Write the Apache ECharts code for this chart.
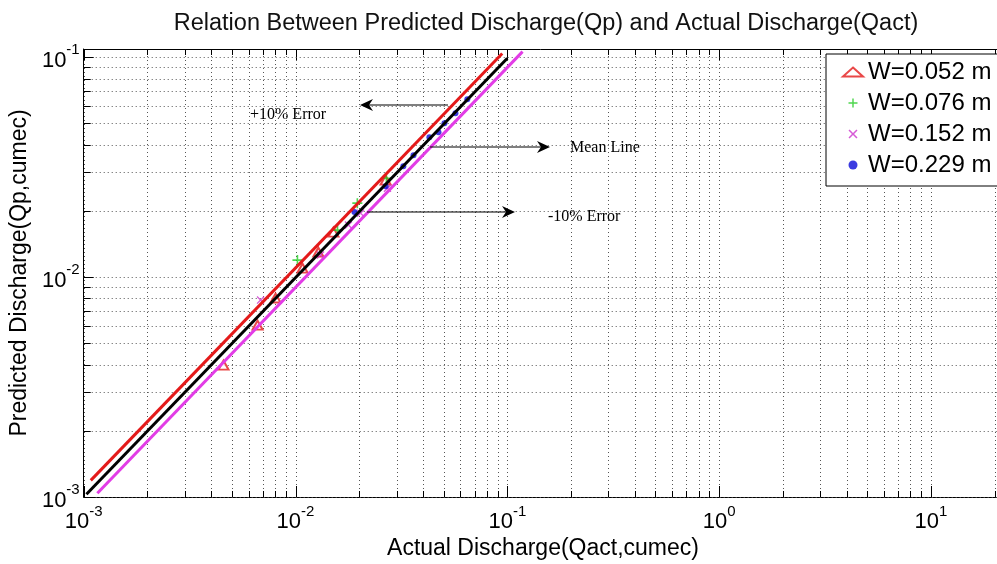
<!DOCTYPE html>
<html><head><meta charset="utf-8">
<script src="https://cdn.jsdelivr.net/npm/echarts@6/dist/echarts.min.js"></script>
<style>html,body{margin:0;padding:0;background:#fff;overflow:hidden;}#c{width:997px;height:564px;}</style>
</head><body><div id="c"></div>
<script>
// ---- data ----
const seriesNames = ['W=0.052 m', 'W=0.076 m', 'W=0.152 m', 'W=0.229 m'];
const w052 = [[0.00457,0.00398],[0.00662,0.00605],[0.00805,0.00803],[0.01079,0.01099],[0.01282,0.01299],[0.01510,0.01601],[0.02663,0.02760]];
const w076 = [[0.01021,0.01195],[0.01578,0.01635],[0.01958,0.02170],[0.02685,0.02818]];
const w152 = [[0.00684,0.00786],[0.01312,0.01259],[0.01778,0.01724],[0.02028,0.01954],[0.02716,0.02538]];
const w229 = [[0.01897,0.01975],[0.02663,0.02592],[0.03228,0.03196],[0.03606,0.03585],[0.04285,0.04329],[0.04732,0.04561],[0.05047,0.05012],[0.05689,0.05566],[0.06471,0.06445]];
const plus10Line = [[0.00108,0.00119],[0.0946,0.104]];
const meanLine = [[0.00103,0.00103],[0.1,0.099]];
const minus10Line = [[0.00116,0.00104],[0.118,0.106]];
const xRange = [0.001, 20.5];
const yRange = [0.001, 0.109];
const xGridValues = [0.001,0.002,0.003,0.004,0.005,0.006,0.007,0.008,0.009,
  0.01,0.02,0.03,0.04,0.05,0.06,0.07,0.08,0.09,
  0.1,0.2,0.3,0.4,0.5,0.6,0.7,0.8,0.9,
  1,2,3,4,5,6,7,8,9,
  10,20];
const yGridValues = [0.001,0.002,0.003,0.004,0.005,0.006,0.007,0.008,0.009,
  0.01,0.02,0.03,0.04,0.05,0.06,0.07,0.08,0.09,0.1];
const titleText = 'Relation Between Predicted Discharge(Qp) and Actual Discharge(Qact)';
const xName = 'Actual Discharge(Qact,cumec)';
const yName = 'Predicted Discharge(Qp,cumec)';

const FONT = 'Arial, "Liberation Sans", Helvetica, sans-serif';
const SERIF = '"Liberation Serif", "Times New Roman", serif';

function isDecade(v) {
  const e = Math.log10(v);
  return Math.abs(e - Math.round(e)) < 1e-6;
}
function powLabel(v) {
  if (!isDecade(v)) return '';
  return '{b|10}{s|' + Math.round(Math.log10(v)) + '}';
}
const labelRich = {
  b: {fontSize: 22, fontFamily: FONT, color: '#000', lineHeight: 29, verticalAlign: 'bottom'},
  s: {fontSize: 15, fontFamily: FONT, color: '#000', lineHeight: 15, verticalAlign: 'top'}
};

const chart = echarts.init(document.getElementById('c'));
const option = {
  animation: false,
  backgroundColor: '#fff',
  title: {
    text: titleText, left: 541, top: 7, textAlign: 'center',
    textStyle: {fontSize: 23.5, fontWeight: 'normal', fontFamily: FONT, color: '#111'}
  },
  grid: {left: 83, top: 49, right: 0, bottom: 67, show: true, borderWidth: 0, backgroundColor: '#fff'},
  xAxis: [{
    type: 'log', logBase: 10, min: xRange[0], max: xRange[1], position: 'bottom',
    axisLine: {show: true, lineStyle: {color: '#000', width: 1}}, axisTick: {show: false}, splitLine: {show: false},
    axisLabel: {formatter: powLabel, rich: labelRich, margin: 7, showMaxLabel: false}
  }, {
    type: 'log', logBase: 10, min: xRange[0], max: xRange[1], position: 'top',
    axisLine: {show: true, lineStyle: {color: '#000', width: 1}}, axisTick: {show: false}, splitLine: {show: false},
    axisLabel: {show: false}
  }],
  yAxis: {
    type: 'log', logBase: 10, min: yRange[0], max: yRange[1],
    axisLine: {show: true, lineStyle: {color: '#000', width: 1}}, axisTick: {show: false}, splitLine: {show: false},
    axisLabel: {formatter: powLabel, rich: labelRich, margin: 4, showMaxLabel: false},
    name: yName, nameLocation: 'middle', nameGap: 43,
    nameTextStyle: {fontSize: 23, fontFamily: FONT, color: '#000'}
  },
  legend: {
    data: seriesNames, orient: 'vertical', left: 826, top: 54, z: 20,
    padding: [6, 40, 9, 16], itemGap: 7, itemWidth: 20, itemHeight: 9,
    backgroundColor: '#fff', borderColor: '#000', borderWidth: 1,
    textStyle: {fontSize: 24, fontFamily: FONT, color: '#000', lineHeight: 24}
  },
  graphic: [
    {type: 'line', shape: {x1: 448, y1: 105, x2: 366, y2: 105}, style: {stroke: '#000', lineWidth: 1}, z: 50},
    {type: 'polygon', shape: {points: [[360,105],[373,99],[369,105],[373,111]]}, style: {fill: '#000'}, z: 50},
    {type: 'text', x: 250, y: 115, style: {text: '+10% Error', font: '16px ' + SERIF, fill: '#000', verticalAlign: 'middle'}, z: 50},
    {type: 'line', shape: {x1: 430, y1: 147, x2: 544, y2: 147}, style: {stroke: '#000', lineWidth: 1}, z: 50},
    {type: 'polygon', shape: {points: [[550,147],[537,141],[541,147],[537,153]]}, style: {fill: '#000'}, z: 50},
    {type: 'text', x: 570, y: 148, style: {text: 'Mean Line', font: '16px ' + SERIF, fill: '#000', verticalAlign: 'middle'}, z: 50},
    {type: 'line', shape: {x1: 367, y1: 212, x2: 509, y2: 212}, style: {stroke: '#000', lineWidth: 1}, z: 50},
    {type: 'polygon', shape: {points: [[515,212],[502,206],[506,212],[502,218]]}, style: {fill: '#000'}, z: 50},
    {type: 'text', x: 548, y: 217, style: {text: '-10% Error', font: '16px ' + SERIF, fill: '#000', verticalAlign: 'middle'}, z: 50},
    {type: 'text', x: 543, y: 549, style: {text: xName, font: '23px ' + FONT, fill: '#000', align: 'center', verticalAlign: 'middle'}, z: 50}
  ],
  series: [
    {
      name: 'xgrid', type: 'custom', silent: true, z: 1,
      data: xGridValues.map(v => [v, yRange[0]]),
      renderItem: function (params, api) {
        const v = api.value(0);
        const p0 = api.coord([v, yRange[0]]);
        const p1 = api.coord([v, yRange[1]]);
        const tl = isDecade(v) ? 11 : 6;
        const x = Math.round(p0[0]) + 0.5;
        return {type: 'group', children: [
          {type: 'line', shape: {x1: x, y1: p0[1], x2: x, y2: p1[1]}, style: {stroke: '#555', lineWidth: 1, lineDash: [1, 3]}},
          {type: 'line', shape: {x1: x, y1: p0[1], x2: x, y2: p0[1] - tl}, style: {stroke: '#000', lineWidth: 1}},
          {type: 'line', shape: {x1: x, y1: p1[1], x2: x, y2: p1[1] + tl}, style: {stroke: '#000', lineWidth: 1}}
        ]};
      }
    },
    {
      name: 'ygrid', type: 'custom', silent: true, z: 1,
      data: yGridValues.map(v => [xRange[0], v]),
      renderItem: function (params, api) {
        const v = api.value(1);
        const p0 = api.coord([xRange[0], v]);
        const p1 = api.coord([xRange[1], v]);
        const tl = isDecade(v) ? 10 : 7;
        const y = Math.round(p0[1]) + 0.5;
        return {type: 'group', children: [
          {type: 'line', shape: {x1: p0[0], y1: y, x2: p1[0], y2: y}, style: {stroke: '#555', lineWidth: 1, lineDash: [1, 3]}},
          {type: 'line', shape: {x1: p0[0], y1: y, x2: p0[0] + tl, y2: y}, style: {stroke: '#000', lineWidth: 1}}
        ]};
      }
    },
    {name: seriesNames[0], type: 'scatter', data: w052, symbol: 'emptyTriangle', symbolSize: [10, 9], z: 3,
      itemStyle: {color: '#e41a1a', borderWidth: 1.5}},
    {name: seriesNames[1], type: 'scatter', data: w076, z: 3,
      symbol: 'path://M4.2,0 L5.8,0 L5.8,4.2 L10,4.2 L10,5.8 L5.8,5.8 L5.8,10 L4.2,10 L4.2,5.8 L0,5.8 L0,4.2 L4.2,4.2 Z',
      symbolSize: 10, itemStyle: {color: '#22cc22'}},
    {name: seriesNames[2], type: 'scatter', data: w152, z: 3,
      symbol: 'path://M0,1.2 L1.2,0 L5,3.8 L8.8,0 L10,1.2 L6.2,5 L10,8.8 L8.8,10 L5,6.2 L1.2,10 L0,8.8 L3.8,5 Z',
      symbolSize: 8, itemStyle: {color: '#cc33cc'}},
    {name: seriesNames[3], type: 'scatter', data: w229, symbol: 'circle', symbolSize: 6, z: 3,
      itemStyle: {color: '#0a0ad8'}},
    {name: '+10% Error', type: 'line', data: plus10Line, showSymbol: false, silent: true, z: 4,
      lineStyle: {color: '#e41a1a', width: 3}},
    {name: 'Mean Line', type: 'line', data: meanLine, showSymbol: false, silent: true, z: 4,
      lineStyle: {color: '#000', width: 3}},
    {name: '-10% Error', type: 'line', data: minus10Line, showSymbol: false, silent: true, z: 4,
      lineStyle: {color: '#e23ce6', width: 3}}
  ]
};
chart.setOption(option);
</script>
</body></html>
